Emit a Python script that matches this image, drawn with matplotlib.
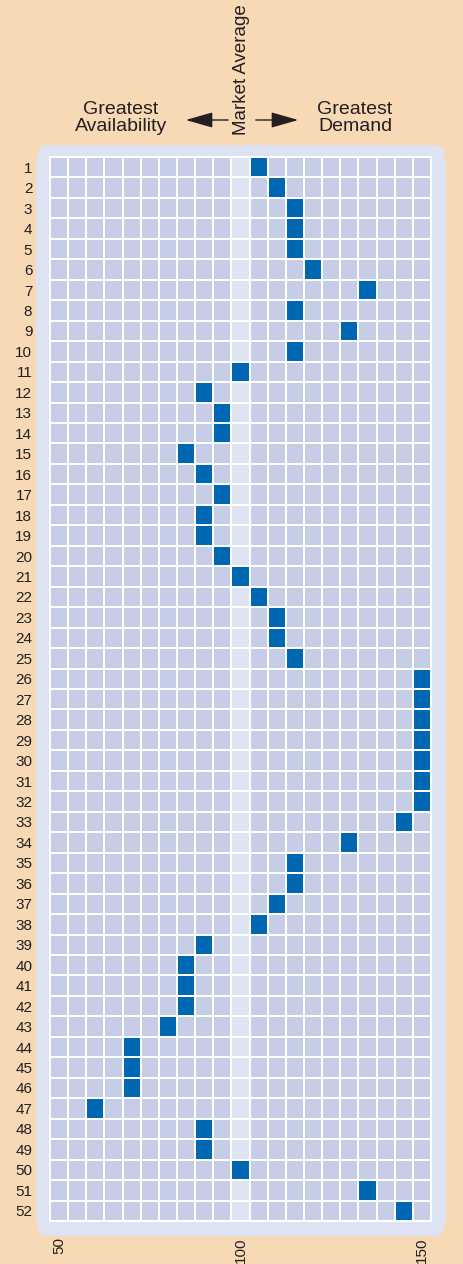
import numpy as np
import matplotlib
matplotlib.use("Agg")
import matplotlib.pyplot as plt
from matplotlib.colors import ListedColormap
from matplotlib.patches import FancyBboxPatch, FancyArrowPatch

plt.rcParams['font.family'] = ['Liberation Sans', 'DejaVu Sans']

weeks = list(range(1, 53))
index_values = [105, 110, 115, 115, 115, 120, 135, 115, 130, 115,
                100, 90, 95, 95, 85, 90, 95, 90, 90, 95,
                100, 105, 110, 110, 115, 150, 150, 150, 150, 150,
                150, 150, 145, 130, 115, 115, 110, 105, 90, 85,
                85, 85, 80, 70, 70, 70, 60, 90, 90, 100,
                135, 145]
columns = list(range(50, 155, 5))
x_tick_values = [50, 100, 150]
market_average = 100

W, H = 463, 1264
fig = plt.figure(figsize=(W / 100, H / 100), dpi=100)
fig.patch.set_facecolor('#F7D9B6')

# rounded panel
panel = FancyBboxPatch((36 / W, 1 - 1236 / H), (446 - 36) / W, (1236 - 145) / H,
                       boxstyle="round,pad=0,rounding_size=0.02",
                       transform=fig.transFigure, facecolor='#DDE3F2',
                       edgecolor='none', zorder=-5)
fig.patches.append(panel)

ax = fig.add_axes([49 / W, 1 - 1222 / H, (432 - 49) / W, (1222 - 156) / H])
ax.set_zorder(2)
ax.set_facecolor('white')

grid = np.zeros((len(weeks), len(columns)))
for j, c in enumerate(columns):
    if c == market_average:
        grid[:, j] = 1
for i, v in enumerate(index_values):
    grid[i, columns.index(v)] = 2

cmap = ListedColormap(['#C6CDE7', '#DFE4F2', '#0068B3'])
xedges = np.array(columns + [columns[-1] + 5]) - 2.5
yedges = np.arange(0.5, len(weeks) + 1.0, 1.0)
ax.pcolormesh(xedges, yedges, grid, cmap=cmap, vmin=0, vmax=2,
              edgecolor='white', linewidth=1.3)
ax.set_xlim(xedges[0] - 0.25, xedges[-1] + 0.25)
ax.set_ylim(yedges[-1] + 0.05, yedges[0] - 0.05)

for s in ax.spines.values():
    s.set_visible(False)

txtc = '#231F20'
ax.set_yticks(weeks)
ax.set_yticklabels([str(w) for w in weeks])
ax.set_xticks(x_tick_values)
ax.set_xticklabels([str(v) for v in x_tick_values], rotation=90)
ax.tick_params(axis='y', length=0, pad=12, labelsize=11, labelcolor=txtc)
ax.tick_params(axis='x', length=0, pad=11, labelsize=11, labelcolor=txtc)

fig.text(121 / W, 1 - 118 / H, "Greatest\nAvailability", ha='center', va='center',
         fontsize=14, color=txtc, linespacing=0.95)
fig.text(355 / W, 1 - 118 / H, "Greatest\nDemand", ha='center', va='center',
         fontsize=14, color=txtc, linespacing=0.95)
fig.text(242 / W, 1 - 70 / H, "Market Average", ha='center', va='center',
         rotation=90, fontsize=13.5, color=txtc)

for start, end in [((231, 120), (183, 120)), ((253, 120), (301, 120))]:
    fig.add_artist(FancyArrowPatch((start[0] / W, 1 - start[1] / H), (end[0] / W, 1 - end[1] / H),
                   transform=fig.transFigure, mutation_scale=12,
                   arrowstyle='-|>,head_length=1.4,head_width=0.4', color=txtc, lw=1.0))

fig.savefig('out.png', dpi=100, facecolor=fig.get_facecolor())
